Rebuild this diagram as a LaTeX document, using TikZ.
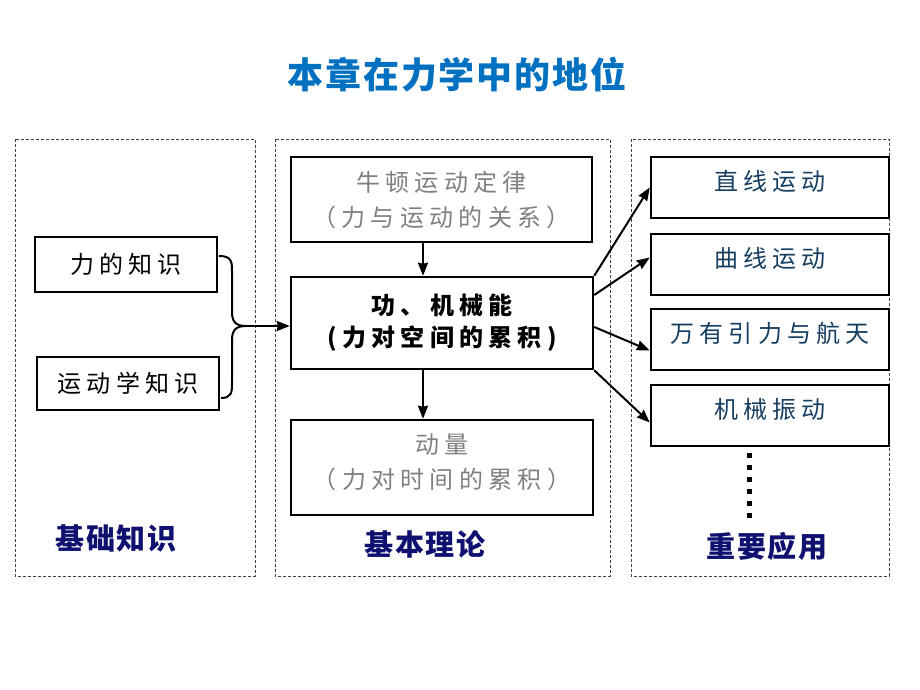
\documentclass[tikz,border=0pt]{standalone}
\usepackage{fontspec}
\usepackage{tikz}
\usetikzlibrary{arrows.meta}

\newfontfamily\cjk{Noto Sans CJK SC}
\newfontfamily\cjkwide[LetterSpace=22]{Noto Sans CJK SC}
\newfontfamily\cjkhead[LetterSpace=5]{Noto Sans CJK SC}

\definecolor{titleblue}{RGB}{0,112,192}
\definecolor{colnavy}{RGB}{16,16,112}
\definecolor{appblue}{RGB}{22,62,96}
\definecolor{softgray}{RGB}{128,128,128}

\begin{document}
\begin{tikzpicture}[x=1pt,y=-1pt,
    box/.style={draw, line width=2.5pt, inner sep=0pt, align=center,
        font=\cjkwide\fontsize{24}{35}\selectfont},
    appbox/.style={box, minimum width=238, minimum height=61, text depth=14,
        text=appblue},
    panel/.style={draw=black!75, line width=0.8pt, dash pattern=on 3pt off 2pt},
    colname/.style={font=\cjkhead\bfseries\fontsize{29}{29}\selectfont, text=colnavy},
    link/.style={line width=2pt, -{Stealth[length=13pt,width=10pt,inset=1pt]}}
]
    \useasboundingbox (0,0) rectangle (920,690);

    % Title
    \node[font=\cjkhead\bfseries\fontsize{36}{36}\selectfont, text=titleblue] (title) at (457,75) {本章在力学中的地位};

    % Three dashed panels
    \draw[panel] (15,139) rectangle (255,576);
    \draw[panel] (275,139) rectangle (610,576);
    \draw[panel] (631,139) rectangle (889,576);

    % Basic knowledge
    \node[box, minimum width=182, minimum height=55] (force) at (126,264.5) {力的知识};
    \node[box, minimum width=182, minimum height=53] (kin) at (128,383.5) {运动学知识};
    \node[colname] (basic) at (116,538) {基础知识};

    % Brace joining the two boxes
    \coordinate (join) at (246,326);
    \draw[line width=2pt] (219,256) .. controls (232,256) and (232,262) .. (232,272) -- (232,312) .. controls (232,322) and (236,326) .. (join);
    \draw[line width=2pt] (221,398) .. controls (232,398) and (232,392) .. (232,382) -- (232,340) .. controls (232,330) and (236,326) .. (join);

    % Basic theory
    \node[box, minimum width=301, minimum height=85, text=softgray] (newton) at (441.5,199.5) {牛顿运动定律\\（力与运动的关系）};
    \node[box, minimum width=302, minimum height=92, font=\cjkwide\bfseries\fontsize{24}{32}\selectfont] (work) at (442,323) {功、机械能\\(力对空间的累积)};
    \node[box, minimum width=302, minimum height=95, text depth=13, text=softgray] (momentum) at (442,467.5) {动量\\（力对时间的累积）};
    \node[colname] (theory) at (425,544) {基本理论};

    % Applications
    \node[appbox] (app1) at (770,187.5) {直线运动};
    \node[appbox] (app2) at (770,264.5) {曲线运动};
    \node[appbox] (app3) at (770,339.5) {万有引力与航天};
    \node[appbox] (app4) at (770,415.5) {机械振动};
    \foreach \k in {0,...,5}
        \fill (746.5,452.5+12*\k) rectangle ++(5,5);
    \node[colname] (usage) at (767,546) {重要应用};

    % Arrows (yshift is in page direction: positive is up)
    \draw[link] (join) -- (join -| work.west);
    \draw[link] ([xshift=-18.5]newton.south) -- ([xshift=-19]work.north);
    \draw[link] ([xshift=-19]work.south) -- ([xshift=-19]momentum.north);
    \draw[link] (work.north east) -- (app1.west);
    \draw[link] ([yshift=28]work.east) -- ([yshift=7]app2.west);
    \draw[link] ([yshift=-4]work.east) -- ([yshift=-11]app3.west);
    \draw[link] (work.south east) -- ([yshift=-7]app4.west);
\end{tikzpicture}
\end{document}
